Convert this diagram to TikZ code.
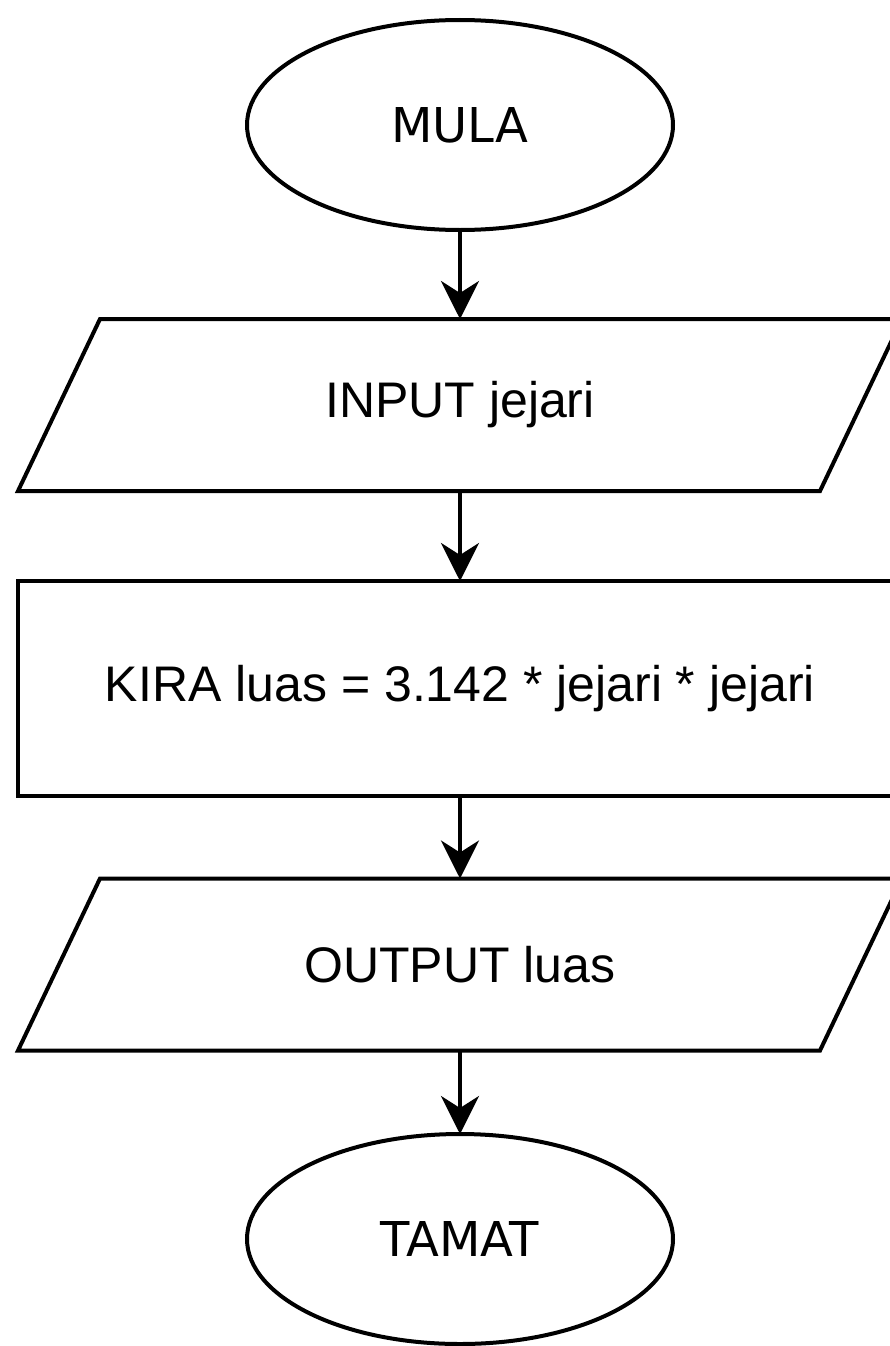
\documentclass[tikz,border=0pt]{standalone}
\usepackage{fontspec}
\setmainfont{Liberation Sans}
\newfontfamily\termfont{DejaVu Sans}
\usetikzlibrary{arrows.meta,shapes.geometric}

\tikzset{
  outline/.style={line width=4pt, line join=miter, draw=black},
  term/.style={ellipse, outline, minimum width=426pt, minimum height=210pt,
    inner sep=0pt, outer sep=0pt, font=\termfont\fontsize{48}{56}\selectfont},
  iobox/.style={rectangle, draw=none, minimum width=802pt, minimum height=172pt,
    inner sep=0pt, outer sep=0pt, font=\fontsize{50}{60}\selectfont},
  procbox/.style={rectangle, outline, minimum width=884pt, minimum height=215pt,
    inner sep=0pt, outer sep=0pt, font=\fontsize{50}{60}\selectfont},
  flow/.style={line width=4pt, -{Stealth[length=38pt, width=38pt, inset=12pt]}},
}

\begin{document}
\begin{tikzpicture}[x=1pt, y=-1pt]
  \useasboundingbox (0,0) rectangle (890,1346);
  \fill[white] (0,0) rectangle (890,1346);
  \clip (0,0) rectangle (890,1346);

  % flowchart steps
  \node[term]    (start) at (460,125)    {MULA};
  \node[iobox]   (in)    at (460,405)    {INPUT jejari};
  \node[procbox] (calc)  at (460,688.5)  {KIRA luas = 3.142 * jejari * jejari};
  \node[iobox]   (out)   at (460,964.5)  {OUTPUT luas};
  \node[term]    (stop)  at (460,1239)   {TAMAT};

  % input/output parallelograms
  \foreach \n in {in,out}
    \draw[outline] ([xshift=41pt]\n.north west) -- ([xshift=41pt]\n.north east)
      -- ([xshift=-41pt]\n.south east) -- ([xshift=-41pt]\n.south west) -- cycle;

  % connectors
  \draw[flow] (start.south) -- (in.north);
  \draw[flow] (in.south) -- (calc.north);
  \draw[flow] (calc.south) -- (out.north);
  \draw[flow] (out.south) -- (stop.north);
\end{tikzpicture}
\end{document}
